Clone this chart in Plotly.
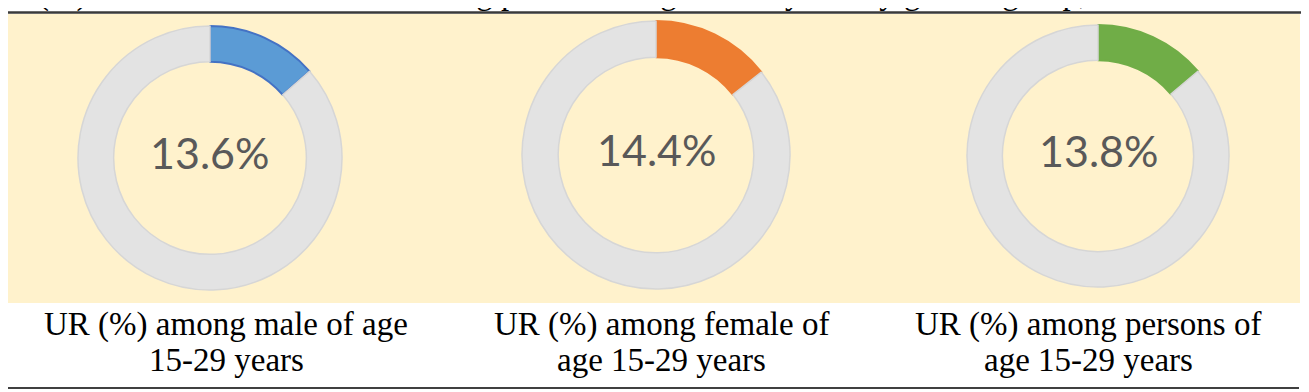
import plotly.graph_objects as go

# The page body has an 8px margin, so the figure is sized to fill the rest
OFF = 8
W, H = 1309 - OFF, 392 - OFF

# ---- data ----
groups = ["male", "female", "persons"]
ur_values = [13.6, 14.4, 13.8]
center_labels = ["13.6%", "14.4%", "13.8%"]
caption_line1 = ["UR (%) among male of age", "UR (%) among female of", "UR (%) among persons of"]
caption_line2 = ["15-29 years", "age 15-29 years", "age 15-29 years"]
top_text = "UR (%) in CWS in urban areas among persons of age 15-29 years by gender group, 2023-24"

# ---- styling ----
seg_colors = ["#5B9BD5", "#ED7D31", "#70AD47"]
seg_lines = ["#4472C4", "#ED7D31", "#70AD47"]
ring_color = "#E3E3E3"
ring_line = "#D6D6D6"
centers = [(210, 158), (656, 155), (1098, 156)]   # positions in page pixels
radii = [132, 134, 131]
caption_x = [226, 661, 1088]


def px_x(x):
    return (x - OFF) / W


def px_y(y):
    return 1 - (y - OFF) / H


fig = go.Figure()
for i, g in enumerate(groups):
    cx, cy = centers[i]
    r = radii[i]
    fig.add_trace(go.Pie(
        values=[ur_values[i], 100 - ur_values[i]],
        labels=[g, "rest"],
        hole=0.73,
        sort=False,
        direction="clockwise",
        rotation=0,
        textinfo="none",
        hoverinfo="skip",
        showlegend=False,
        marker=dict(colors=[seg_colors[i], ring_color],
                    line=dict(color=[seg_lines[i], ring_line], width=[2, 1.5])),
        domain=dict(x=[px_x(cx - r), px_x(cx + r)], y=[px_y(cy + r), px_y(cy - r)]),
    ))
    fig.add_annotation(x=px_x(cx), y=px_y(cy - 6), xref="paper", yref="paper",
                       text=center_labels[i], showarrow=False,
                       font=dict(family="Lato", size=43, color="#595959"),
                       xanchor="center", yanchor="middle")
    fig.add_annotation(x=px_x(caption_x[i]), y=px_y(324), xref="paper", yref="paper",
                       text=caption_line1[i], showarrow=False,
                       font=dict(family="Liberation Serif", size=33, color="#000000"),
                       xanchor="center", yanchor="middle")
    fig.add_annotation(x=px_x(caption_x[i]), y=px_y(360), xref="paper", yref="paper",
                       text=caption_line2[i], showarrow=False,
                       font=dict(family="Liberation Serif", size=33, color="#000000"),
                       xanchor="center", yanchor="middle")

# heading that is cut off at the top edge in the reference
fig.add_annotation(x=px_x(-18), y=px_y(-7), xref="paper", yref="paper",
                   text=top_text, showarrow=False,
                   font=dict(family="Liberation Serif", size=33, color="#000000"),
                   xanchor="left", yanchor="middle")

shapes = [
    dict(type="rect", xref="paper", yref="paper", x0=px_x(2), x1=px_x(1300),
         y0=px_y(303), y1=px_y(14), fillcolor="#FFF2CC", line=dict(width=0), layer="below"),
    dict(type="line", xref="paper", yref="paper", x0=px_x(2), x1=px_x(1301),
         y0=px_y(12.5), y1=px_y(12.5), line=dict(color="#3A3A3A", width=2.5)),
    dict(type="line", xref="paper", yref="paper", x0=px_x(2), x1=px_x(1299),
         y0=px_y(388), y1=px_y(388), line=dict(color="#000000", width=1.5)),
]

fig.update_layout(
    width=W, height=H,
    margin=dict(l=0, r=0, t=0, b=0),
    paper_bgcolor="#FFFFFF",
    plot_bgcolor="#FFFFFF",
    shapes=shapes,
)

fig.write_html("out.html")
